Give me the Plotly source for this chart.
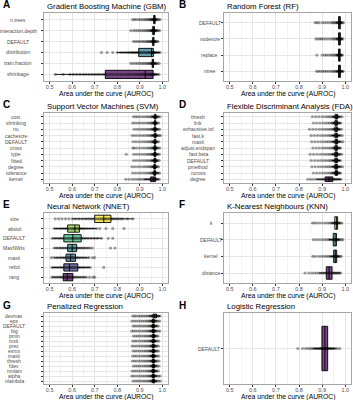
import plotly.graph_objects as go

# ---------------- data ----------------
A_labels = ["n.trees", "interaction.depth", "DEFAULT", "distribution", "train.fraction", "shrinkage"]
A_q1 = [0.961, 0.957, 0.957, 0.895, 0.955, 0.747]
A_med = [0.965, 0.961, 0.960, 0.952, 0.958, 0.924]
A_q3 = [0.968, 0.965, 0.963, 0.960, 0.961, 0.959]
A_points = [
    [0.868, 0.876, 0.884, 0.893, 0.902, 0.91, 0.918, 0.925, 0.931, 0.937, 0.942, 0.946, 0.95, 0.953, 0.956, 0.958, 0.96, 0.962, 0.963, 0.965, 0.966, 0.968, 0.97, 0.972, 0.975, 0.979, 0.984, 0.99],
    [0.86, 0.872, 0.881, 0.89, 0.899, 0.907, 0.915, 0.922, 0.929, 0.935, 0.94, 0.945, 0.949, 0.952, 0.955, 0.957, 0.959, 0.961, 0.963, 0.965, 0.967, 0.97, 0.973, 0.977, 0.982, 0.988],
    [0.872, 0.88, 0.889, 0.897, 0.905, 0.913, 0.92, 0.927, 0.933, 0.938, 0.943, 0.947, 0.951, 0.954, 0.957, 0.959, 0.96, 0.962, 0.964, 0.966, 0.969, 0.972, 0.976, 0.981],
    [0.73, 0.755, 0.78, 0.8, 0.815, 0.825, 0.835, 0.845, 0.852, 0.86, 0.866, 0.872, 0.878, 0.884, 0.89, 0.895, 0.9, 0.906, 0.912, 0.918, 0.924, 0.93, 0.936, 0.941, 0.946, 0.95, 0.953, 0.956, 0.958, 0.96, 0.962, 0.965, 0.968, 0.972, 0.977, 0.983, 0.99],
    [0.86, 0.87, 0.88, 0.889, 0.898, 0.906, 0.914, 0.921, 0.928, 0.934, 0.94, 0.945, 0.949, 0.952, 0.955, 0.957, 0.958, 0.96, 0.962, 0.964, 0.967, 0.97, 0.974, 0.979, 0.986],
    [0.525, 0.56, 0.59, 0.605, 0.62, 0.635, 0.65, 0.662, 0.675, 0.688, 0.7, 0.712, 0.723, 0.735, 0.745, 0.755, 0.765, 0.776, 0.787, 0.798, 0.81, 0.82, 0.832, 0.843, 0.853, 0.862, 0.872, 0.88, 0.889, 0.897, 0.905, 0.912, 0.918, 0.924, 0.93, 0.936, 0.941, 0.946, 0.95, 0.954, 0.958, 0.961, 0.965, 0.97, 0.976, 0.985],
]

B_labels = ["DEFAULT", "nodesize", "replace", "ntree"]
B_q1 = [0.971, 0.971, 0.971, 0.971]
B_med = [0.975, 0.975, 0.975, 0.975]
B_q3 = [0.979, 0.979, 0.978, 0.979]
B_points = [
    [0.87, 0.878, 0.886, 0.9, 0.91, 0.92, 0.93, 0.94, 0.946, 0.952, 0.957, 0.962, 0.966, 0.969, 0.972, 0.974, 0.976, 0.978, 0.98, 0.983, 0.987, 0.992],
    [0.873, 0.882, 0.89, 0.897, 0.905, 0.915, 0.925, 0.935, 0.944, 0.951, 0.957, 0.962, 0.966, 0.97, 0.972, 0.975, 0.977, 0.979, 0.982, 0.985, 0.99],
    [0.877, 0.9, 0.91, 0.918, 0.927, 0.936, 0.943, 0.95, 0.956, 0.961, 0.965, 0.968, 0.971, 0.974, 0.976, 0.978, 0.981, 0.984, 0.988],
    [0.876, 0.884, 0.893, 0.902, 0.91, 0.918, 0.927, 0.936, 0.944, 0.951, 0.957, 0.962, 0.966, 0.97, 0.973, 0.975, 0.977, 0.98, 0.983, 0.987, 0.991],
]

C_labels = ["cost", "shrinking", "nu", "cachesize", "DEFAULT", "cross", "type", "fitted", "degree", "tolerance", "kernel"]
C_q1 = [0.964, 0.964, 0.963, 0.964, 0.963, 0.963, 0.963, 0.963, 0.962, 0.962, 0.948]
C_med = [0.968, 0.968, 0.967, 0.968, 0.967, 0.967, 0.967, 0.967, 0.966, 0.966, 0.962]
C_q3 = [0.972, 0.971, 0.971, 0.972, 0.971, 0.971, 0.971, 0.971, 0.970, 0.970, 0.970]
C_points = [
    [0.872, 0.881, 0.89, 0.9, 0.912, 0.922, 0.931, 0.939, 0.946, 0.952, 0.957, 0.961, 0.964, 0.967, 0.969, 0.971, 0.974, 0.978, 0.983, 0.99],
    [0.868, 0.878, 0.889, 0.899, 0.91, 0.92, 0.93, 0.938, 0.945, 0.951, 0.956, 0.96, 0.964, 0.966, 0.969, 0.971, 0.974, 0.978, 0.984],
    [0.874, 0.886, 0.897, 0.908, 0.918, 0.928, 0.936, 0.944, 0.95, 0.955, 0.959, 0.963, 0.966, 0.968, 0.97, 0.973, 0.977, 0.982, 0.988],
    [0.866, 0.877, 0.888, 0.9, 0.911, 0.921, 0.931, 0.939, 0.946, 0.952, 0.957, 0.961, 0.964, 0.967, 0.969, 0.972, 0.975, 0.98, 0.986, 0.992],
    [0.87, 0.882, 0.894, 0.906, 0.917, 0.927, 0.936, 0.943, 0.95, 0.955, 0.959, 0.963, 0.966, 0.968, 0.971, 0.974, 0.978, 0.984],
    [0.869, 0.875, 0.886, 0.899, 0.911, 0.922, 0.932, 0.94, 0.947, 0.953, 0.958, 0.962, 0.965, 0.968, 0.97, 0.973, 0.977, 0.982, 0.989],
    [0.84, 0.873, 0.885, 0.897, 0.909, 0.92, 0.93, 0.938, 0.945, 0.951, 0.956, 0.96, 0.964, 0.967, 0.969, 0.972, 0.976, 0.981, 0.987],
    [0.872, 0.884, 0.896, 0.908, 0.919, 0.929, 0.937, 0.945, 0.951, 0.956, 0.96, 0.964, 0.967, 0.969, 0.972, 0.975, 0.98, 0.986],
    [0.865, 0.877, 0.89, 0.902, 0.914, 0.924, 0.933, 0.941, 0.948, 0.953, 0.958, 0.962, 0.965, 0.967, 0.97, 0.973, 0.977, 0.983],
    [0.868, 0.88, 0.892, 0.904, 0.915, 0.925, 0.934, 0.942, 0.948, 0.954, 0.958, 0.962, 0.965, 0.968, 0.97, 0.973, 0.977, 0.982, 0.988],
    [0.838, 0.852, 0.866, 0.878, 0.89, 0.9, 0.91, 0.919, 0.927, 0.935, 0.942, 0.948, 0.953, 0.958, 0.962, 0.966, 0.97, 0.974, 0.979, 0.986],
]

D_labels = ["thresh", "link", "exhaustive.tol", "fast.k", "maxit", "adjust.endspan", "fast.beta", "DEFAULT", "pmethod", "ncross", "degree"]
D_q1 = [0.956, 0.955, 0.955, 0.955, 0.956, 0.955, 0.955, 0.955, 0.955, 0.956, 0.913]
D_med = [0.962, 0.961, 0.961, 0.961, 0.962, 0.961, 0.961, 0.961, 0.961, 0.962, 0.930]
D_q3 = [0.967, 0.966, 0.966, 0.966, 0.967, 0.966, 0.966, 0.966, 0.966, 0.967, 0.946]
D_points = [
    [0.858, 0.872, 0.886, 0.9, 0.912, 0.922, 0.93, 0.938, 0.944, 0.95, 0.955, 0.958, 0.961, 0.963, 0.966, 0.969, 0.973, 0.979, 0.986],
    [0.862, 0.876, 0.89, 0.903, 0.914, 0.924, 0.932, 0.94, 0.946, 0.951, 0.955, 0.958, 0.961, 0.964, 0.967, 0.97, 0.975, 0.981],
    [0.845, 0.86, 0.874, 0.888, 0.9, 0.911, 0.921, 0.93, 0.938, 0.945, 0.951, 0.956, 0.959, 0.962, 0.965, 0.968, 0.972, 0.977, 0.984],
    [0.852, 0.866, 0.88, 0.893, 0.905, 0.916, 0.926, 0.934, 0.941, 0.947, 0.952, 0.956, 0.96, 0.963, 0.966, 0.969, 0.973, 0.979, 0.987],
    [0.855, 0.869, 0.883, 0.896, 0.908, 0.918, 0.927, 0.936, 0.943, 0.949, 0.954, 0.958, 0.961, 0.964, 0.967, 0.97, 0.975, 0.982, 0.99],
    [0.86, 0.874, 0.887, 0.9, 0.911, 0.921, 0.93, 0.938, 0.945, 0.95, 0.955, 0.958, 0.961, 0.964, 0.967, 0.97, 0.974, 0.98],
    [0.848, 0.863, 0.878, 0.892, 0.904, 0.915, 0.925, 0.933, 0.941, 0.947, 0.952, 0.956, 0.96, 0.963, 0.966, 0.969, 0.973, 0.978, 0.985],
    [0.853, 0.868, 0.882, 0.895, 0.907, 0.917, 0.927, 0.935, 0.942, 0.948, 0.953, 0.957, 0.96, 0.963, 0.966, 0.969, 0.973, 0.979],
    [0.856, 0.87, 0.884, 0.897, 0.909, 0.919, 0.928, 0.936, 0.943, 0.949, 0.954, 0.958, 0.961, 0.964, 0.967, 0.97, 0.974, 0.981, 0.988],
    [0.862, 0.876, 0.889, 0.902, 0.913, 0.923, 0.932, 0.94, 0.946, 0.951, 0.955, 0.959, 0.962, 0.964, 0.967, 0.97, 0.974, 0.98],
    [0.838, 0.85, 0.862, 0.874, 0.885, 0.895, 0.904, 0.912, 0.919, 0.925, 0.93, 0.935, 0.94, 0.945, 0.95, 0.955, 0.961, 0.967, 0.974, 0.981],
]

E_labels = ["size", "abstol", "DEFAULT", "MaxNWts", "maxit", "reltol", "rang"]
E_q1 = [0.700, 0.580, 0.563, 0.580, 0.573, 0.563, 0.560]
E_med = [0.740, 0.612, 0.603, 0.600, 0.593, 0.588, 0.578]
E_q3 = [0.772, 0.632, 0.640, 0.620, 0.615, 0.625, 0.603]
E_points = [
    [0.525, 0.54, 0.555, 0.57, 0.585, 0.6, 0.615, 0.63, 0.645, 0.66, 0.672, 0.684, 0.695, 0.705, 0.714, 0.722, 0.73, 0.737, 0.744, 0.75, 0.757, 0.764, 0.771, 0.778, 0.786, 0.795, 0.805, 0.815, 0.825, 0.845, 0.87],
    [0.52, 0.532, 0.544, 0.555, 0.565, 0.574, 0.582, 0.589, 0.596, 0.602, 0.608, 0.614, 0.62, 0.626, 0.632, 0.639, 0.647, 0.656, 0.666, 0.678, 0.692, 0.708, 0.722, 0.75, 0.78, 0.83],
    [0.512, 0.524, 0.536, 0.547, 0.557, 0.566, 0.575, 0.583, 0.591, 0.598, 0.605, 0.612, 0.619, 0.626, 0.633, 0.641, 0.65, 0.66, 0.671, 0.684, 0.698, 0.712, 0.73, 0.76, 0.78],
    [0.52, 0.533, 0.546, 0.557, 0.567, 0.576, 0.584, 0.591, 0.597, 0.603, 0.609, 0.615, 0.621, 0.628, 0.636, 0.645, 0.655, 0.667, 0.68, 0.69, 0.77, 0.79],
    [0.508, 0.52, 0.533, 0.545, 0.556, 0.565, 0.574, 0.582, 0.589, 0.595, 0.601, 0.607, 0.613, 0.62, 0.628, 0.637, 0.648, 0.66, 0.674, 0.69, 0.70],
    [0.51, 0.522, 0.534, 0.545, 0.555, 0.564, 0.573, 0.581, 0.588, 0.595, 0.602, 0.61, 0.618, 0.626, 0.635, 0.645, 0.656, 0.668, 0.68, 0.74],
    [0.51, 0.521, 0.532, 0.542, 0.551, 0.559, 0.566, 0.573, 0.579, 0.586, 0.593, 0.6, 0.608, 0.617, 0.627, 0.638, 0.65, 0.663, 0.677, 0.692, 0.70],
]

F_labels = ["k", "DEFAULT", "kernel", "distance"]
F_q1 = [0.955, 0.948, 0.950, 0.918]
F_med = [0.962, 0.956, 0.957, 0.930]
F_q3 = [0.967, 0.962, 0.963, 0.943]
F_points = [
    [0.858, 0.866, 0.876, 0.888, 0.9, 0.912, 0.922, 0.931, 0.938, 0.945, 0.95, 0.955, 0.958, 0.961, 0.963, 0.965, 0.967, 0.97, 0.974, 0.979, 0.986],
    [0.862, 0.874, 0.886, 0.898, 0.909, 0.919, 0.928, 0.935, 0.942, 0.948, 0.952, 0.956, 0.959, 0.962, 0.965, 0.968, 0.972, 0.977, 0.984, 0.99],
    [0.86, 0.87, 0.884, 0.896, 0.907, 0.917, 0.926, 0.934, 0.941, 0.947, 0.952, 0.955, 0.958, 0.961, 0.964, 0.967, 0.971, 0.976, 0.983],
    [0.826, 0.842, 0.855, 0.866, 0.876, 0.886, 0.895, 0.903, 0.911, 0.918, 0.924, 0.93, 0.936, 0.942, 0.948, 0.953, 0.958, 0.963, 0.968, 0.974, 0.98],
]

G_labels = ["devmax", "eps", "DEFAULT", "big", "pmin", "mxit", "prec", "exmx", "maxit", "thresh", "fdev", "mnlam", "alpha", "nlambda"]
G_q1 = [0.958, 0.956, 0.956, 0.956, 0.957, 0.956, 0.956, 0.956, 0.956, 0.956, 0.957, 0.956, 0.956, 0.957]
G_med = [0.966, 0.960, 0.960, 0.960, 0.961, 0.960, 0.960, 0.960, 0.960, 0.960, 0.961, 0.960, 0.960, 0.961]
G_q3 = [0.974, 0.964, 0.964, 0.964, 0.965, 0.964, 0.964, 0.964, 0.964, 0.964, 0.965, 0.964, 0.964, 0.965]
G_points = [
    [0.868, 0.876, 0.884, 0.893, 0.902, 0.91, 0.918, 0.926, 0.933, 0.94, 0.946, 0.951, 0.955, 0.959, 0.963, 0.966, 0.969, 0.972, 0.975, 0.979, 0.984, 0.99],
    [0.865, 0.874, 0.883, 0.893, 0.903, 0.912, 0.921, 0.929, 0.936, 0.942, 0.947, 0.951, 0.955, 0.958, 0.96, 0.963, 0.966, 0.97, 0.975, 0.981, 0.988],
    [0.87, 0.878, 0.887, 0.896, 0.905, 0.914, 0.922, 0.93, 0.937, 0.943, 0.948, 0.952, 0.955, 0.958, 0.961, 0.964, 0.967, 0.971, 0.976, 0.982],
    [0.864, 0.872, 0.881, 0.891, 0.901, 0.911, 0.92, 0.928, 0.935, 0.941, 0.946, 0.95, 0.954, 0.957, 0.96, 0.963, 0.966, 0.97, 0.975, 0.982, 0.989],
    [0.872, 0.881, 0.89, 0.899, 0.908, 0.917, 0.925, 0.932, 0.939, 0.945, 0.95, 0.954, 0.957, 0.96, 0.963, 0.966, 0.97, 0.975, 0.981],
    [0.869, 0.878, 0.887, 0.897, 0.907, 0.916, 0.924, 0.931, 0.938, 0.944, 0.949, 0.953, 0.956, 0.959, 0.962, 0.965, 0.968, 0.972, 0.977, 0.984],
    [0.866, 0.875, 0.885, 0.895, 0.905, 0.914, 0.923, 0.93, 0.937, 0.943, 0.948, 0.952, 0.955, 0.958, 0.961, 0.964, 0.967, 0.971, 0.976, 0.983],
    [0.87, 0.879, 0.888, 0.898, 0.908, 0.917, 0.925, 0.932, 0.939, 0.944, 0.949, 0.953, 0.956, 0.959, 0.962, 0.965, 0.968, 0.972, 0.977, 0.983],
    [0.868, 0.877, 0.886, 0.896, 0.906, 0.915, 0.923, 0.931, 0.938, 0.944, 0.949, 0.953, 0.956, 0.959, 0.962, 0.965, 0.968, 0.972, 0.977, 0.984],
    [0.867, 0.876, 0.886, 0.896, 0.906, 0.915, 0.923, 0.93, 0.937, 0.943, 0.948, 0.952, 0.956, 0.959, 0.962, 0.965, 0.968, 0.972, 0.977, 0.985],
    [0.871, 0.88, 0.889, 0.898, 0.907, 0.916, 0.924, 0.931, 0.938, 0.944, 0.949, 0.953, 0.956, 0.959, 0.962, 0.965, 0.969, 0.973, 0.978, 0.985],
    [0.866, 0.875, 0.884, 0.894, 0.904, 0.913, 0.922, 0.93, 0.937, 0.943, 0.948, 0.952, 0.955, 0.958, 0.961, 0.964, 0.967, 0.971, 0.976, 0.982],
    [0.864, 0.873, 0.883, 0.893, 0.903, 0.912, 0.921, 0.929, 0.936, 0.942, 0.947, 0.951, 0.955, 0.958, 0.961, 0.964, 0.967, 0.971, 0.976, 0.983, 0.99],
    [0.87, 0.879, 0.888, 0.897, 0.906, 0.915, 0.923, 0.931, 0.938, 0.944, 0.949, 0.953, 0.956, 0.959, 0.962, 0.965, 0.968, 0.972, 0.977, 0.984, 0.991],
]

H_labels = ["DEFAULT"]
H_q1 = [0.899]
H_med = [0.912]
H_q3 = [0.924]
H_points = [
    [0.795, 0.815, 0.828, 0.838, 0.847, 0.855, 0.862, 0.868, 0.874, 0.879, 0.884, 0.889, 0.893, 0.897, 0.901, 0.905, 0.909, 0.912, 0.915, 0.918, 0.921, 0.924, 0.928, 0.932, 0.936, 0.94, 0.945, 0.951, 0.958, 0.966, 0.976],
]

x_ticks = [0.5, 0.6, 0.7, 0.8, 0.9, 1.0]
x_title = "Area under the curve (AUROC)"

panels = [
    ("A", "Gradient Boosting Machine (GBM)", A_labels, A_q1, A_med, A_q3, A_points),
    ("B", "Random Forest (RF)", B_labels, B_q1, B_med, B_q3, B_points),
    ("C", "Support Vector Machines (SVM)", C_labels, C_q1, C_med, C_q3, C_points),
    ("D", "Flexible Discriminant Analysis (FDA)", D_labels, D_q1, D_med, D_q3, D_points),
    ("E", "Neural Network (NNET)", E_labels, E_q1, E_med, E_q3, E_points),
    ("F", "K-Nearest Neighbours (KNN)", F_labels, F_q1, F_med, F_q3, F_points),
    ("G", "Penalized Regression", G_labels, G_q1, G_med, G_q3, G_points),
    ("H", "Logistic Regression", H_labels, H_q1, H_med, H_q3, H_points),
]

# ---------------- geometry / style ----------------
W, H = 353, 400
COLS = [(44, 168), (224, 351)]
ROWS = [(13, 81), (113, 183), (213, 283), (313, 384)]
LABEL_CX = [18, 210, 16, 198, 14, 211, 14, 209]
VIRIDIS = {
    1: ["#440154"],
    4: ["#440154", "#31688E", "#35B779", "#FDE725"],
    6: ["#440154", "#414487", "#2A788E", "#22A884", "#7AD151", "#FDE725"],
    7: ["#440154", "#443A83", "#31688E", "#21908C", "#35B779", "#8FD744", "#FDE725"],
    11: ["#440154", "#482576", "#414487", "#35608D", "#2A788E", "#21908C", "#22A884", "#43BF71", "#7AD151", "#BBDF27", "#FDE725"],
    14: ["#440154", "#481C6E", "#453581", "#3D4D8A", "#34618D", "#2B748E", "#24878E", "#1F998A", "#25AC82", "#40BC72", "#67CC5C", "#97D83F", "#CBE11E", "#FDE725"],
}
FONT = "Liberation Sans, Arial, Helvetica, sans-serif"


def rgba(hexc, a):
    h = hexc.lstrip("#")
    return f"rgba({int(h[0:2],16)},{int(h[2:4],16)},{int(h[4:6],16)},{a})"


fig = go.Figure()
annotations = []
layout_axes = {}

for i, (letter, title, labels, q1, med, q3, pts) in enumerate(panels):
    k = i + 1
    xname = "x" if k == 1 else f"x{k}"
    yname = "y" if k == 1 else f"y{k}"
    x0, x1 = COLS[i % 2]
    y0, y1 = ROWS[i // 2]
    n = len(labels)
    pal = VIRIDIS[n][::-1]

    for j in range(n):
        vals = pts[j]
        iqr = q3[j] - q1[j]
        lo = min([v for v in vals if v >= q1[j] - 1.5 * iqr] + [q1[j]])
        hi = max([v for v in vals if v <= q3[j] + 1.5 * iqr] + [q3[j]])
        fig.add_trace(go.Box(
            y=[j], q1=[q1[j]], median=[med[j]], q3=[q3[j]],
            lowerfence=[lo], upperfence=[hi],
            orientation="h", width=0.75, whiskerwidth=0,
            fillcolor=rgba(pal[j], 0.72),
            line=dict(color="black", width=0.9),
            boxpoints=False, showlegend=False, hoverinfo="skip",
            xaxis=xname, yaxis=yname,
        ))

    xs, ys = [], []
    for j in range(n):
        xs += pts[j]
        ys += [j] * len(pts[j])
    fig.add_trace(go.Scatter(
        x=xs, y=ys, mode="markers",
        marker=dict(size=3.2, color="rgba(0,0,0,0.36)", line=dict(width=0)),
        showlegend=False, hoverinfo="skip", xaxis=xname, yaxis=yname,
    ))

    xkey = "xaxis" if k == 1 else f"xaxis{k}"
    ykey = "yaxis" if k == 1 else f"yaxis{k}"
    layout_axes[xkey] = dict(
        domain=[x0 / W, x1 / W], anchor=yname, range=[0.475, 1.025],
        tickmode="array", tickvals=x_ticks, ticktext=[f"{v:.1f}" for v in x_ticks],
        tickfont=dict(size=5.5, color="#4d4d4d", family=FONT),
        ticks="outside", ticklen=2, tickcolor="#333333", tickwidth=0.6,
        ticklabelstandoff=-2,
        showgrid=True, gridcolor="#e6e6e6", gridwidth=0.8,
        minor=dict(tickvals=[0.55, 0.65, 0.75, 0.85, 0.95], showgrid=True,
                   gridcolor="#f3f3f3", gridwidth=0.5, ticks=""),
        showline=True, mirror=True, linecolor="#a6a6a6", linewidth=0.8,
        zeroline=False, fixedrange=True,
    )
    layout_axes[ykey] = dict(
        domain=[1 - y1 / H, 1 - y0 / H], anchor=xname,
        range=[n - 1 + 0.6, -0.6],
        tickmode="array", tickvals=list(range(n)), showticklabels=False,
        ticks="outside", ticklen=2, tickcolor="#333333", tickwidth=0.6,
        showgrid=True, gridcolor="#e6e6e6", gridwidth=0.8,
        showline=True, mirror=True, linecolor="#a6a6a6", linewidth=0.8,
        zeroline=False, fixedrange=True,
    )

    for j, lab in enumerate(labels):
        annotations.append(dict(
            text=lab, xref="paper", yref=yname, x=LABEL_CX[i] / W, y=j,
            xanchor="center", yanchor="middle", showarrow=False,
            font=dict(size=5, color="#4d4d4d", family=FONT),
        ))
    ty = y0 - 7
    annotations.append(dict(
        text=title, xref="paper", yref="paper", x=(x0 + 1) / W, y=1 - ty / H,
        xanchor="left", yanchor="middle", showarrow=False,
        font=dict(size=7.8, color="black", family=FONT),
    ))
    lx = 1 if i % 2 == 0 else 177
    annotations.append(dict(
        text=f"<b>{letter}</b>", xref="paper", yref="paper", x=lx / W, y=1 - (ty - 1) / H,
        xanchor="left", yanchor="middle", showarrow=False,
        font=dict(size=10, color="black", family=FONT),
    ))
    annotations.append(dict(
        text=x_title, xref="paper", yref="paper", x=(x0 + x1) / 2 / W, y=1 - (y1 + 12.5) / H,
        xanchor="center", yanchor="middle", showarrow=False,
        font=dict(size=6.8, color="black", family=FONT),
    ))

fig.update_layout(
    width=W, height=H, margin=dict(l=0, r=0, t=0, b=0),
    paper_bgcolor="white", plot_bgcolor="white",
    annotations=annotations, font=dict(family=FONT),
    **layout_axes,
)

fig.write_html(
    "out.html",
    config={"displayModeBar": False, "responsive": False},
    post_script="document.body.style.margin='0';document.body.style.padding='0';document.body.style.overflow='hidden';",
)
